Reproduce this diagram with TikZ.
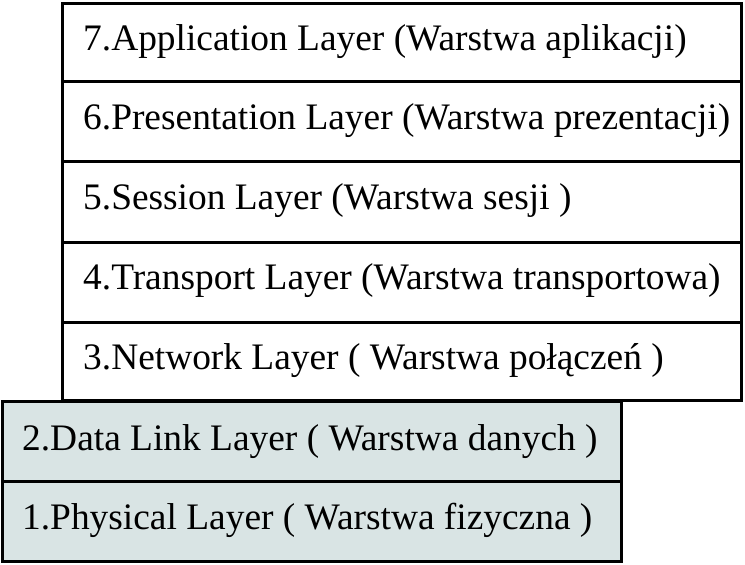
\documentclass[tikz,border=0pt]{standalone}
\usepackage{fontspec}
\setmainfont{Liberation Serif}
\definecolor{lowfill}{RGB}{217,228,228}
\begin{document}
\begin{tikzpicture}[x=1pt,y=-1pt,
  layerbox/.style={draw=black,line width=3pt},
  lowbox/.style={layerbox,fill=lowfill},
  layertext/.style={anchor=base west,inner sep=0pt,font=\fontsize{37.4}{40}\selectfont}]
\useasboundingbox (0,0) rectangle (745,565);
% upper stack
\draw[layerbox] (62,3) rectangle (741.5,81);
\draw[layerbox] (62,81) rectangle (741.5,161);
\draw[layerbox] (62,161) rectangle (741.5,242);
\draw[layerbox] (62,242) rectangle (741.5,322);
\draw[layerbox] (62,322) rectangle (741.5,400);
% lower stack
\draw[lowbox] (2.5,401) rectangle (621,481);
\draw[lowbox] (2.5,481) rectangle (621,561.5);
% labels
\node[layertext] (t7) at (83,50) {7.Application Layer (Warstwa aplikacji)};
\node[layertext] (t6) at (83,129) {6.Presentation Layer (Warstwa prezentacji)};
\node[layertext] (t5) at (83,209) {5.Session Layer (Warstwa sesji )};
\node[layertext] (t4) at (83,289) {4.Transport Layer (Warstwa transportowa)};
\node[layertext] (t3) at (83,369) {3.Network Layer ( Warstwa połączeń )};
\node[layertext] (t2) at (22,450) {2.Data Link Layer ( Warstwa danych )};
\node[layertext] (t1) at (22,529) {1.Physical Layer ( Warstwa fizyczna )};
\end{tikzpicture}
\end{document}
